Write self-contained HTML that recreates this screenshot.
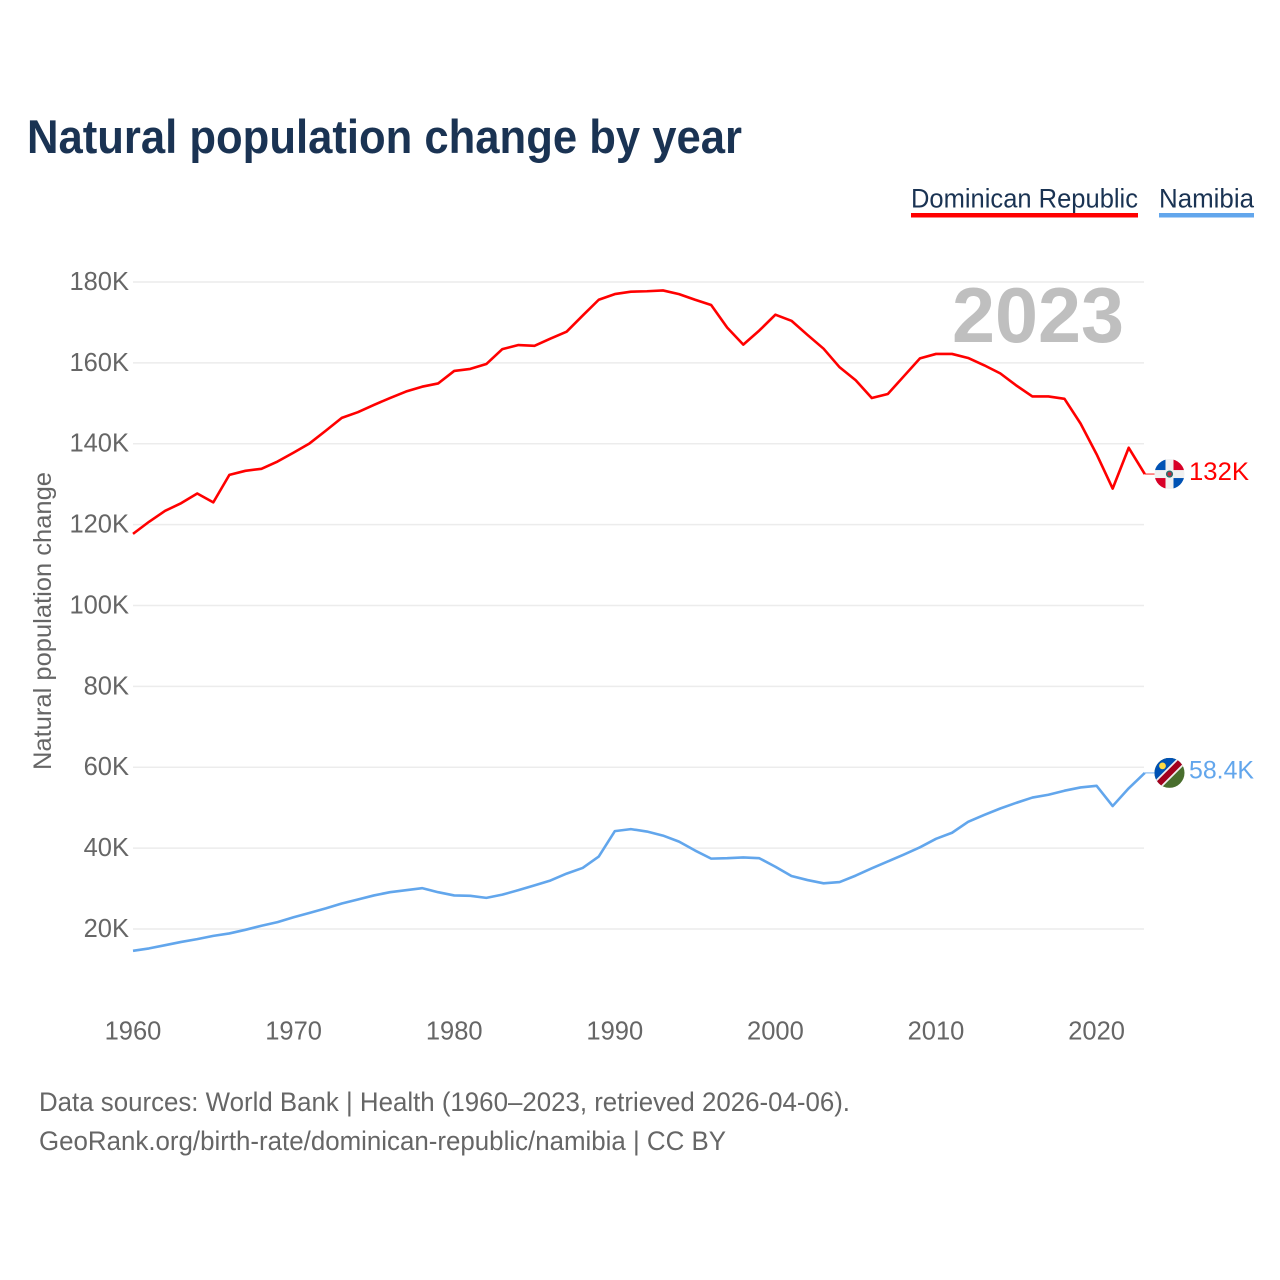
<!DOCTYPE html>
<html lang="en">
<head>
<meta charset="utf-8">
<title>Natural population change by year</title>
<style>
  html, body { margin: 0; padding: 0; background: #fff; }
  body { width: 1280px; height: 1280px; overflow: hidden; }
  svg { display: block; font-family: "Liberation Sans", sans-serif; }
  .tick { fill: #666; font-size: 25.5px; }
  .foot { fill: #666; font-size: 27px; }
  .legend { fill: #1a3353; font-size: 27px; }
</style>
</head>
<body>
<svg id="chart" width="1280" height="1280" viewBox="0 0 1280 1280" xmlns="http://www.w3.org/2000/svg">
  <defs>
    <clipPath id="flag-clip"><circle cx="0" cy="0" r="15"></circle></clipPath>
  </defs>
  <rect width="1280" height="1280" fill="#fff"></rect>
  <text x="27" y="153" font-size="47" font-weight="700" fill="#1a3353" textLength="715" lengthAdjust="spacingAndGlyphs">Natural population change by year</text>

  <g>
    <text class="legend" x="911" y="207.5" textLength="227" lengthAdjust="spacingAndGlyphs">Dominican Republic</text>
    <rect x="911" y="213" width="227" height="4.5" fill="#ff0000"></rect>
  </g>
  <g>
    <text class="legend" x="1159" y="207.5" textLength="95" lengthAdjust="spacingAndGlyphs">Namibia</text>
    <rect x="1159" y="213" width="95" height="4.5" fill="#62a6ec"></rect>
  </g>

  <g id="grid"></g>
  <g id="y-ticks"></g>
  <g id="x-ticks"></g>

  <text x="1124" y="342" text-anchor="end" font-size="78" font-weight="700" fill="#bfbfbf" textLength="172" lengthAdjust="spacingAndGlyphs">2023</text>

  <text transform="translate(51 621) rotate(-90)" text-anchor="middle" font-size="25" fill="#666" textLength="298" lengthAdjust="spacingAndGlyphs">Natural population change</text>

  <g id="series"></g>

  <g id="flag-dr">
    <g clip-path="url(#flag-clip)">
      <rect x="-15" y="-15" width="30" height="30" fill="#f0f0f0"></rect>
      <rect x="-15" y="-15" width="11" height="11" fill="#0052b4"></rect>
      <rect x="4" y="-15" width="11" height="11" fill="#d80027"></rect>
      <rect x="-15" y="4" width="11" height="11" fill="#d80027"></rect>
      <rect x="4" y="4" width="11" height="11" fill="#0052b4"></rect>
      <circle cx="0" cy="0" r="3.6" fill="#2c6e6e"></circle>
      <circle cx="0" cy="0" r="2" fill="#c0283c"></circle>
    </g>
  </g>
  <g id="flag-na">
    <g clip-path="url(#flag-clip)">
      <rect x="-15" y="-15" width="30" height="30" fill="#496e2d"></rect>
      <polygon points="-15,-15 15,-15 -15,15" fill="#0052b4"></polygon>
      <line x1="-16" y1="16" x2="16" y2="-16" stroke="#f0f0f0" stroke-width="9.5"></line>
      <line x1="-16" y1="16" x2="16" y2="-16" stroke="#a2001d" stroke-width="6"></line>
      <circle cx="-7" cy="-7" r="3.4" fill="#ffda44"></circle>
    </g>
  </g>

  <text id="value-dr" x="1189" font-size="25" fill="#ff0000" textLength="60" lengthAdjust="spacingAndGlyphs">132K</text>
  <text id="value-na" x="1189" font-size="25" fill="#62a6ec" textLength="65" lengthAdjust="spacingAndGlyphs">58.4K</text>

  <text class="foot" x="39" y="1111" textLength="811" lengthAdjust="spacingAndGlyphs">Data sources: World Bank | Health (1960–2023, retrieved 2026-04-06).</text>
  <text class="foot" x="39" y="1150" textLength="687" lengthAdjust="spacingAndGlyphs">GeoRank.org/birth-rate/dominican-republic/namibia | CC BY</text>
</svg>
<script>
const startYear = 1960;
const yTicks = [20, 40, 60, 80, 100, 120, 140, 160, 180];
const xTicks = [1960, 1970, 1980, 1990, 2000, 2010, 2020];
const dominicanRepublic = [
  117.7, 120.7, 123.4, 125.3, 127.7, 125.5, 132.3, 133.3, 133.8, 135.6,
  137.8, 140.1, 143.2, 146.4, 147.8, 149.6, 151.3, 152.9, 154.1, 154.9,
  158.0, 158.5, 159.7, 163.4, 164.4, 164.2, 166.0, 167.7, 171.7, 175.6,
  177.0, 177.6, 177.7, 177.9, 177.0, 175.6, 174.3, 168.7, 164.5, 168.0,
  171.9, 170.4, 166.9, 163.5, 158.9, 155.7, 151.3, 152.3, 156.7, 161.1,
  162.2, 162.2, 161.2, 159.4, 157.4, 154.4, 151.7, 151.7, 151.1, 145.0,
  137.4, 128.9, 139.0, 132.5
];
const namibia = [
  14.6, 15.2, 16.0, 16.8, 17.5, 18.3, 18.9, 19.8, 20.8, 21.7,
  22.9, 24.0, 25.1, 26.3, 27.3, 28.3, 29.1, 29.6, 30.1, 29.1,
  28.3, 28.2, 27.7, 28.5, 29.6, 30.8, 32.0, 33.7, 35.1, 37.9,
  44.2, 44.7, 44.1, 43.1, 41.6, 39.4, 37.4, 37.5, 37.7, 37.5,
  35.4, 33.1, 32.1, 31.3, 31.6, 33.2, 35.0, 36.7, 38.4, 40.2,
  42.3, 43.8, 46.5, 48.2, 49.8, 51.2, 52.5, 53.2, 54.2, 55.0,
  55.4, 50.4, 54.8, 58.6
];

const NS = 'http://www.w3.org/2000/svg';
function xScale(year) { return 133 + (year - 1960) * 16.06; }
function yScale(v) { return 929 - (v - 20) * 4.044; }

const grid = document.getElementById('grid');
const yGroup = document.getElementById('y-ticks');
const xGroup = document.getElementById('x-ticks');
const seriesGroup = document.getElementById('series');

yTicks.forEach(function (t) {
  const line = document.createElementNS(NS, 'line');
  
  
  line.setAttribute('x1', 133);
  line.setAttribute('x2', 1144);
  line.setAttribute('y1', yScale(t));
  line.setAttribute('y2', yScale(t));
  line.setAttribute('stroke', '#ececec');
  line.setAttribute('stroke-width', '1.5');
  grid.appendChild(line);

  const label = document.createElementNS(NS, 'text');
  
  
  label.setAttribute('class', 'tick');
  label.setAttribute('x', 129);
  label.setAttribute('y', yScale(t) + 8);
  label.setAttribute('text-anchor', 'end');
  label.textContent = t + 'K';
  yGroup.appendChild(label);
});

xTicks.forEach(function (t) {
  const label = document.createElementNS(NS, 'text');
  
  
  label.setAttribute('class', 'tick');
  label.setAttribute('x', xScale(t));
  label.setAttribute('y', 1039.5);
  label.setAttribute('text-anchor', 'middle');
  label.textContent = t;
  xGroup.appendChild(label);
});

function pathFor(values) {
  return values.map(function (v, i) {
    return (i ? 'L' : 'M') + xScale(startYear + i).toFixed(2) + ' ' + yScale(v).toFixed(2);
  }).join(' ');
}

const redLine = document.createElementNS(NS, 'path');


redLine.setAttribute('d', pathFor(dominicanRepublic));
redLine.setAttribute('fill', 'none');
redLine.setAttribute('stroke', '#ff0000');
redLine.setAttribute('stroke-width', '2.6');
redLine.setAttribute('stroke-linejoin', 'round');
seriesGroup.appendChild(redLine);

const blueLine = document.createElementNS(NS, 'path');


blueLine.setAttribute('d', pathFor(namibia));
blueLine.setAttribute('fill', 'none');
blueLine.setAttribute('stroke', '#62a6ec');
blueLine.setAttribute('stroke-width', '2.6');
blueLine.setAttribute('stroke-linejoin', 'round');
seriesGroup.appendChild(blueLine);

const lastYear = startYear + dominicanRepublic.length - 1;
const redEnd = yScale(dominicanRepublic[dominicanRepublic.length - 1]);
const blueEnd = yScale(namibia[namibia.length - 1]);

const redLink = document.createElementNS(NS, 'line');


redLink.setAttribute('x1', xScale(lastYear));
redLink.setAttribute('x2', xScale(lastYear) + 10);
redLink.setAttribute('y1', redEnd);
redLink.setAttribute('y2', redEnd);
redLink.setAttribute('stroke', '#ff0000');
redLink.setAttribute('stroke-opacity', '0.75');
redLink.setAttribute('stroke-width', '1.2');
seriesGroup.appendChild(redLink);

const blueLink = document.createElementNS(NS, 'line');


blueLink.setAttribute('x1', xScale(lastYear));
blueLink.setAttribute('x2', xScale(lastYear) + 10);
blueLink.setAttribute('y1', blueEnd);
blueLink.setAttribute('y2', blueEnd);
blueLink.setAttribute('stroke', '#62a6ec');
blueLink.setAttribute('stroke-opacity', '0.75');
blueLink.setAttribute('stroke-width', '1.2');
seriesGroup.appendChild(blueLink);

document.getElementById('flag-dr').setAttribute('transform', 'translate(1169.5 ' + redEnd + ')');
document.getElementById('flag-na').setAttribute('transform', 'translate(1169.5 ' + blueEnd + ')');
document.getElementById('value-dr').setAttribute('y', redEnd + 6);
document.getElementById('value-na').setAttribute('y', blueEnd + 5.5);
</script>
</body>
</html>
